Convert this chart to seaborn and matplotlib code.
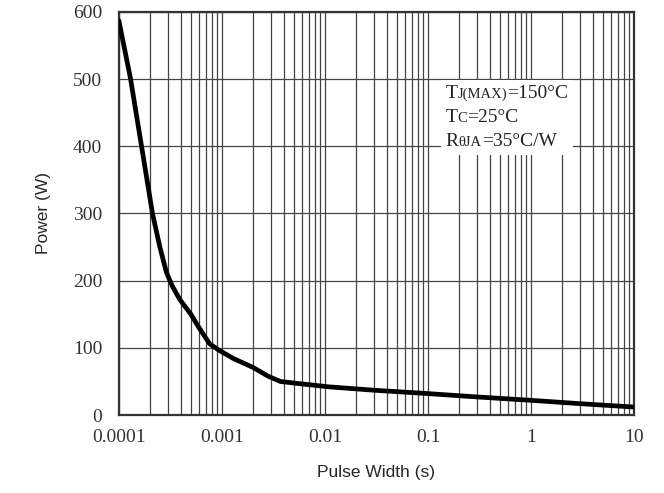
import numpy as np
import pandas as pd
import seaborn as sns
import matplotlib.pyplot as plt
from matplotlib.ticker import LogLocator, FixedLocator
from matplotlib.offsetbox import TextArea, HPacker, VPacker, AnchoredOffsetbox

# values
pulse_width = [0.0001, 0.00013, 0.000166, 0.000212, 0.00025, 0.00029, 0.00033,
               0.00039, 0.0005, 0.0006, 0.00076, 0.00095, 0.0013, 0.002, 0.0028, 0.0037,
               0.0055, 0.011, 0.03, 0.1, 0.3, 1, 3, 10]
power = [587, 500, 400, 300, 250, 212, 192,
         172, 150, 130, 106, 96, 84, 71, 58, 50,
         47, 42, 37, 32, 27, 22, 17, 12]
x_ticks = [0.0001, 0.001, 0.01, 0.1, 1, 10]
x_labels = ["0.0001", "0.001", "0.01", "0.1", "1", "10"]
y_ticks = [0, 100, 200, 300, 400, 500, 600]

df = pd.DataFrame({"Pulse Width (s)": pulse_width, "Power (W)": power})

sns.set_style("white")
plt.rcParams["font.family"] = ["Liberation Serif", "DejaVu Serif"]

fig, ax = plt.subplots(figsize=(6.64, 4.93), dpi=100)
fig.subplots_adjust(left=0.179, right=0.955, top=0.976, bottom=0.158)

sns.lineplot(data=df, x="Pulse Width (s)", y="Power (W)", color="black",
             linewidth=3.4, ax=ax, zorder=3)

ax.set_xscale("log")
ax.set_xlim(0.0001, 10)
ax.set_ylim(0, 600)
ax.xaxis.set_major_locator(FixedLocator(x_ticks))
ax.xaxis.set_minor_locator(LogLocator(base=10, subs=np.arange(2, 10), numticks=20))
ax.set_xticks(x_ticks)
ax.set_xticklabels(x_labels)
ax.set_yticks(y_ticks)
ax.tick_params(axis="both", which="both", length=0, labelsize=14, colors="#333333")
ax.tick_params(axis="x", pad=10)
ax.tick_params(axis="y", pad=12)

ax.grid(True, which="major", color="#444444", linewidth=0.9)
ax.grid(True, which="minor", axis="x", color="#444444", linewidth=0.9)
for side in ax.spines.values():
    side.set_color("#333333")
    side.set_linewidth(1.6)

ax.set_xlabel("Pulse Width (s)", fontsize=12.5, family="Liberation Sans", labelpad=14)
ax.set_ylabel("Power (W)", fontsize=12.5, family="Liberation Sans", labelpad=16)

# condition notes, with small-caps style subscripts
big, small = 14, 10.5
def line(parts):
    return HPacker(children=[TextArea(t, textprops=dict(fontsize=s, color="#222222"))
                             for t, s in parts], align="baseline", pad=0, sep=0)

notes = VPacker(children=[
    line([("T", big), ("J(MAX)", small), ("=150°C", big)]),
    line([("T", big), ("C", small), ("=25°C", big)]),
    line([("R", big), ("θJA", small), ("=35°C/W", big)]),
], align="left", pad=0, sep=5)
box = AnchoredOffsetbox(loc="upper left", child=notes, pad=0.35, frameon=True,
                        bbox_to_anchor=(0.625, 0.83), bbox_transform=ax.transAxes,
                        borderpad=0)
box.patch.set_facecolor("white")
box.patch.set_edgecolor("none")
box.zorder = 4
ax.add_artist(box)

fig.savefig("out.png", dpi=100)
